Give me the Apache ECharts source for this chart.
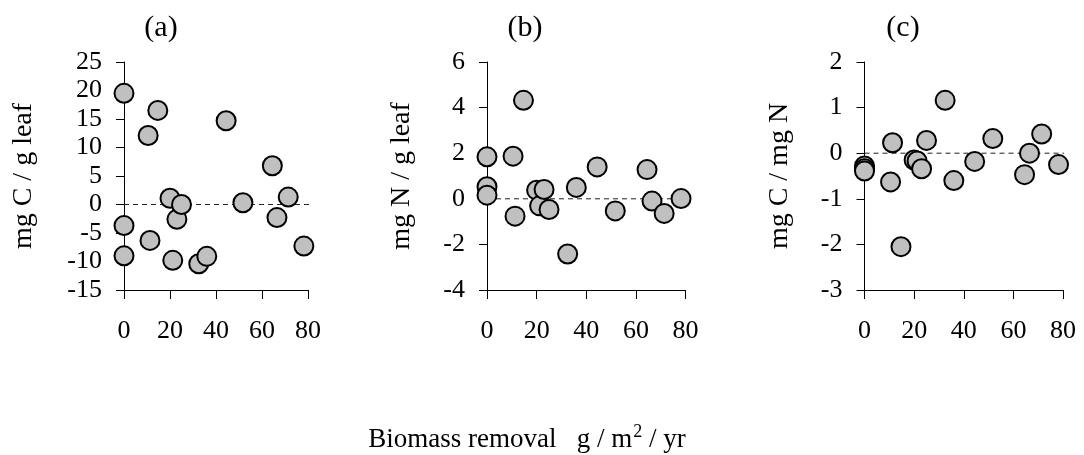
<!DOCTYPE html>
<html>
<head>
<meta charset="utf-8">
<script src="https://cdn.jsdelivr.net/npm/echarts@6/dist/echarts.min.js"></script>
<style>
  html, body { margin: 0; padding: 0; background: #fff; }
  #chart { width: 1084px; height: 455px; }
</style>
</head>
<body>
<div id="chart"></div>
<script>
// Biomass removal (g / m2 / yr) for each plot, shared by the three panels
const removal = [0, 0, 0, 10.5, 11.3, 14.7, 20, 21.2, 23, 25, 32.5, 36, 44.4, 51.7, 64.5, 66.5, 71.4, 78.2];
// (a) mg C / g leaf
const carbonPerLeaf = [19.5, -3.7, -9.0, 12.1, -6.3, 16.5, 1.1, -9.8, -2.6, 0, -10.4, -9.1, 14.7, 0.3, 6.8, -2.3, 1.3, -7.3];
// (b) mg N / g leaf
const nitrogenPerLeaf = [1.84, 0.53, 0.16, 1.87, -0.76, 4.32, 0.38, -0.31, 0.41, -0.47, -2.42, 0.5, 1.4, -0.53, 1.28, -0.1, -0.64, 0.01];
// (c) mg C / mg N
const carbonPerNitrogen = [-0.28, -0.34, -0.39, -0.63, 0.23, -2.05, -0.15, -0.17, -0.34, 0.28, 1.16, -0.6, -0.18, 0.32, -0.47, 0, 0.42, -0.25];

const panelTitles = ['(a)', '(b)', '(c)'];
const yNames = ['mg C / g leaf', 'mg N / g leaf', 'mg C / mg N'];
const yRanges = [[-15, 25, 5], [-4, 6, 2], [-3, 2, 1]];
const xTicks = [0, 80, 20];
const zeroLineSpan = [0, 84];

const FONT = '"Liberation Serif", "Times New Roman", serif';
const panels = [carbonPerLeaf, nitrogenPerLeaf, carbonPerNitrogen];

const grids = [
  { left: 124, top: 62, width: 184, height: 228 },
  { left: 487, top: 62, width: 198.5, height: 228 },
  { left: 864.5, top: 62, width: 198.5, height: 228 }
];
const nameGaps = [86, 71, 71];
const titleX = [156, 520, 898];

const chart = echarts.init(document.getElementById('chart'), null, { renderer: 'canvas' });

const option = {
  backgroundColor: '#ffffff',
  animation: false,
  textStyle: { fontFamily: FONT },
  title: panelTitles.map((t, i) => ({
    text: t,
    left: titleX[i],
    top: 8,
    textAlign: 'center',
    textStyle: { fontFamily: FONT, fontSize: 30, fontWeight: 'normal', color: '#000' }
  })).concat([{
    // shared x-axis title with a superscript exponent
    text: '{t|Biomass removal   g / m}{s|2}{t| / yr}',
    left: 522,
    top: 418,
    textAlign: 'center',
    textStyle: {
      fontFamily: FONT, fontSize: 27, fontWeight: 'normal', color: '#000',
      rich: {
        t: { fontFamily: FONT, fontSize: 27, color: '#000', verticalAlign: 'bottom', lineHeight: 30 },
        s: { fontFamily: FONT, fontSize: 18, color: '#000', verticalAlign: 'top', lineHeight: 30, padding: [0, 0, 10, 1] }
      }
    }
  }]),
  grid: grids,
  xAxis: grids.map((g, i) => ({
    type: 'value',
    gridIndex: i,
    min: xTicks[0],
    max: xTicks[1],
    interval: xTicks[2],
    axisLine: { onZero: false, lineStyle: { color: '#000', width: 1 } },
    axisTick: { show: true, inside: false, length: 9, lineStyle: { color: '#000', width: 1 } },
    axisLabel: { margin: 28, color: '#000', fontFamily: FONT, fontSize: 26 },
    splitLine: { show: false }
  })),
  yAxis: grids.map((g, i) => ({
    type: 'value',
    gridIndex: i,
    min: yRanges[i][0],
    max: yRanges[i][1],
    interval: yRanges[i][2],
    name: yNames[i],
    nameLocation: 'middle',
    nameGap: nameGaps[i],
    nameTextStyle: { color: '#000', fontFamily: FONT, fontSize: 28 },
    axisLine: { onZero: false, lineStyle: { color: '#000', width: 1 } },
    axisTick: { show: true, inside: false, length: 8, lineStyle: { color: '#000', width: 1 } },
    axisLabel: { margin: 22, color: '#000', fontFamily: FONT, fontSize: 26 },
    splitLine: { show: false }
  })),
  series: []
};

panels.forEach((vals, i) => {
  // dashed reference line at zero
  option.series.push({
    type: 'line',
    xAxisIndex: i,
    yAxisIndex: i,
    data: [[zeroLineSpan[0], 0], [zeroLineSpan[1], 0]],
    clip: false,
    symbol: 'none',
    silent: true,
    z: 1,
    lineStyle: { color: '#222', width: 1, type: [5, 4] }
  });
  option.series.push({
    type: 'scatter',
    xAxisIndex: i,
    yAxisIndex: i,
    data: removal.map((x, k) => [x, vals[k]]),
    symbol: 'circle',
    symbolSize: 19,
    z: 3,
    itemStyle: { color: '#c0c0c0', borderColor: '#000', borderWidth: 2, opacity: 1 }
  });
});

chart.setOption(option);
</script>
</body>
</html>
